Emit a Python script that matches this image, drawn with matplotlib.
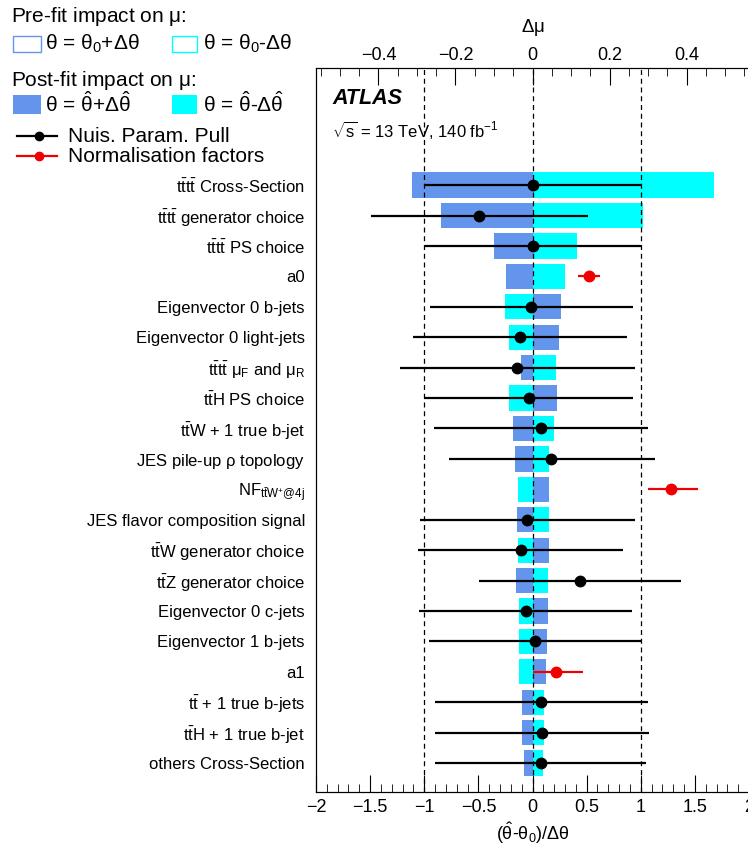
import numpy as np
import matplotlib
matplotlib.use("Agg")
import matplotlib.pyplot as plt
from matplotlib.patches import Rectangle
from matplotlib.lines import Line2D
from matplotlib.ticker import MultipleLocator

plt.rcParams['font.family'] = ['Liberation Sans', 'DejaVu Sans']
plt.rcParams['mathtext.fontset'] = 'custom'
plt.rcParams['mathtext.rm'] = 'Liberation Sans'
plt.rcParams['mathtext.it'] = 'Liberation Sans:italic'
plt.rcParams['mathtext.bf'] = 'Liberation Sans:bold'
plt.rcParams['mathtext.sf'] = 'Liberation Sans'
plt.rcParams['mathtext.default'] = 'regular'

# nuisance parameters, ranked top to bottom
labels = [
    r"$t\bar{t}t\bar{t}$ Cross-Section",
    r"$t\bar{t}t\bar{t}$ generator choice",
    r"$t\bar{t}t\bar{t}$ PS choice",
    "a0",
    "Eigenvector 0 b-jets",
    "Eigenvector 0 light-jets",
    r"$t\bar{t}t\bar{t}$ $\mu_F$ and $\mu_R$",
    r"$t\bar{t}H$ PS choice",
    r"$t\bar{t}W$ + 1 true b-jet",
    r"JES pile-up $\rho$ topology",
    r"NF$_{t\bar{t}W^{+}@4j}$",
    "JES flavor composition signal",
    r"$t\bar{t}W$ generator choice",
    r"$t\bar{t}Z$ generator choice",
    "Eigenvector 0 c-jets",
    "Eigenvector 1 b-jets",
    "a1",
    r"$t\bar{t}$ + 1 true b-jets",
    r"$t\bar{t}H$ + 1 true b-jet",
    "others Cross-Section",
]

# post-fit impact on mu (delta mu), theta = theta_hat + / - dtheta_hat
impact_up = [-0.313, -0.237, -0.101, -0.068, 0.074, 0.068, -0.029, 0.063, -0.051, -0.046,
             0.044, -0.040, 0.044, -0.043, 0.040, 0.037, 0.036, -0.027, -0.027, -0.023]
impact_down = [0.472, 0.287, 0.115, 0.084, -0.071, -0.062, 0.062, -0.060, 0.055, 0.043,
               -0.038, 0.044, -0.038, 0.040, -0.036, -0.036, -0.035, 0.031, 0.031, 0.027]

# pulls (theta_hat - theta0)/dtheta with asymmetric errors
pull = [0.00, -0.49, 0.00, 0.52, -0.01, -0.12, -0.14, -0.03, 0.08, 0.17,
        1.28, -0.05, -0.11, 0.44, -0.06, 0.02, 0.22, 0.08, 0.09, 0.08]
pull_lo = [1.00, 1.00, 0.99, 0.10, 0.94, 0.98, 1.08, 0.97, 0.99, 0.94,
           0.21, 0.99, 0.95, 0.93, 0.99, 0.98, 0.22, 0.98, 0.99, 0.98]
pull_hi = [1.00, 1.00, 1.00, 0.10, 0.94, 0.99, 1.09, 0.96, 0.99, 0.96,
           0.25, 1.00, 0.95, 0.93, 0.98, 0.99, 0.25, 0.99, 0.99, 0.97]
norm_factor = [False, False, False, True, False, False, False, False, False, False,
               True, False, False, False, False, False, True, False, False, False]

blue = '#6495ed'
cyan = '#00ffff'

fig = plt.figure(figsize=(7.48, 8.48), dpi=100)
ax = fig.add_axes([316 / 748, 56 / 848, 433 / 748, 724 / 848])
axt = ax.twiny()

n = len(labels)
ypos = -np.arange(n)

# bars in delta-mu units on the top axis
axt.barh(ypos, impact_up, height=0.83, color=blue, lw=0)
axt.barh(ypos, impact_down, height=0.83, color=cyan, lw=0)
axt.set_xlim(-0.5623, 0.5623)
axt.xaxis.set_major_locator(MultipleLocator(0.2))
axt.xaxis.set_minor_locator(MultipleLocator(0.05))
axt.tick_params(axis='x', which='both', direction='in', labelsize=13, pad=3)
axt.tick_params(axis='x', which='major', length=12)
axt.tick_params(axis='x', which='minor', length=6)
axt.set_xlabel(r"$\Delta\mu$", fontsize=13.5, labelpad=11)
axt.xaxis.set_major_formatter(lambda v, p: f"{v:.1f}".replace('-', '\u2212') if abs(v) > 1e-9 else "0")

# pulls on the bottom axis, drawn above the bars
ax.set_zorder(axt.get_zorder() + 1)
ax.patch.set_visible(False)
for xv in (-1, 0, 1):
    ax.axvline(xv, color='k', ls=(0, (4, 3)), lw=0.9, zorder=1)

pull = np.array(pull)
nf = np.array(norm_factor)
err = np.array([pull_lo, pull_hi])
ax.errorbar(pull[~nf], ypos[~nf], xerr=err[:, ~nf], fmt='o', color='k',
            ms=7.5, lw=1.6, capsize=0, zorder=3)
ax.errorbar(pull[nf], ypos[nf], xerr=err[:, nf], fmt='o', color='#ee0000',
            ms=7.5, lw=1.6, capsize=0, zorder=3)

ax.set_xlim(-2, 2)
ax.set_ylim(-19.95, 3.85)
ax.xaxis.set_major_locator(MultipleLocator(0.5))
ax.xaxis.set_minor_locator(MultipleLocator(0.1))
ax.tick_params(axis='x', which='both', direction='in', labelsize=13, pad=5)
ax.tick_params(axis='x', which='major', length=12)
ax.tick_params(axis='x', which='minor', length=6)
ax.xaxis.set_major_formatter(lambda v, p: f"{v:g}".replace('-', '\u2212'))
ax.set_yticks(ypos)
ax.set_yticklabels(labels, fontsize=12)
ax.tick_params(axis='y', length=0, pad=8)
ax.set_xlabel(r"($\hat{\theta}$-$\theta_0$)/$\Delta\theta$", fontsize=13, labelpad=3)

ax.text(0.038, 0.958, "ATLAS", transform=ax.transAxes, fontsize=15.5,
        fontweight='bold', fontstyle='italic', va='center')
ax.text(0.038, 0.915, r"$\sqrt{s}$ = 13 TeV, 140 fb$^{-1}$", transform=ax.transAxes,
        fontsize=12, va='center')


# legend block at the top left (figure pixels)
def fx(px):
    return px / 748


def fy(py):
    return 1 - py / 848


fs = 15
fig.text(fx(11), fy(17), r"Pre-fit impact on $\mu$:", fontsize=fs, va='center')
fig.add_artist(Rectangle((fx(13), fy(52)), fx(28), 16 / 848, fill=False, ec=blue, lw=1))
fig.add_artist(Rectangle((fx(172), fy(52)), fx(25), 16 / 848, fill=False, ec=cyan, lw=1))
fig.text(fx(45), fy(44), r"$\theta$ = $\theta_0$+$\Delta\theta$", fontsize=fs, va='center')
fig.text(fx(203), fy(44), r"$\theta$ = $\theta_0$-$\Delta\theta$", fontsize=fs, va='center')

fig.text(fx(11), fy(80), r"Post-fit impact on $\mu$:", fontsize=fs, va='center')
fig.add_artist(Rectangle((fx(13), fy(114)), fx(28), 19 / 848, color=blue, lw=0))
fig.add_artist(Rectangle((fx(172), fy(114)), fx(25), 19 / 848, color=cyan, lw=0))
fig.text(fx(45), fy(104), r"$\theta$ = $\hat{\theta}$+$\Delta\hat{\theta}$", fontsize=fs, va='center')
fig.text(fx(203), fy(104), r"$\theta$ = $\hat{\theta}$-$\Delta\hat{\theta}$", fontsize=fs, va='center')

fig.add_artist(Line2D([fx(17), fx(57)], [fy(136), fy(136)], color='k', lw=1.6))
fig.add_artist(Line2D([fx(39)], [fy(136)], color='k', marker='o', ms=6))
fig.text(fx(68), fy(136), "Nuis. Param. Pull", fontsize=fs, va='center')
fig.add_artist(Line2D([fx(17), fx(57)], [fy(156), fy(156)], color='#ee0000', lw=1.6))
fig.add_artist(Line2D([fx(39)], [fy(156)], color='#ee0000', marker='o', ms=6))
fig.text(fx(68), fy(156), "Normalisation factors", fontsize=fs, va='center')

fig.savefig("out.png", dpi=100)
